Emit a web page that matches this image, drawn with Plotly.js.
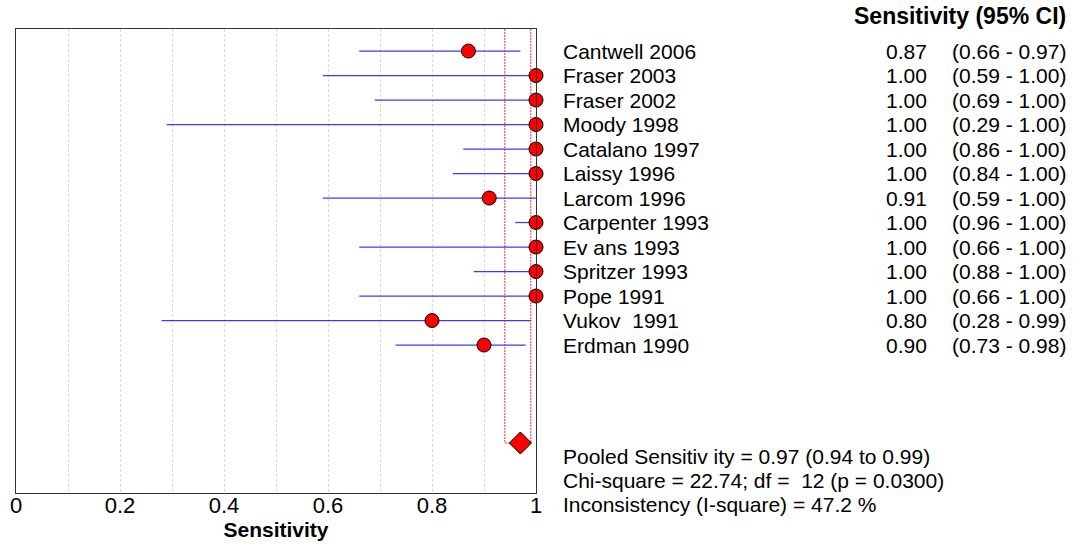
<!DOCTYPE html>
<html><head><meta charset="utf-8">
<script src="https://cdn.plot.ly/plotly-3.0.1.min.js"></script>
<style>html,body{margin:0;padding:0;background:#fff}</style>
</head><body>
<div id="chart" style="width:1089px;height:544px"></div>
<script>
// ---- data ----
const studies = ["Cantwell 2006","Fraser 2003","Fraser 2002","Moody 1998","Catalano 1997","Laissy 1996","Larcom 1996","Carpenter 1993","Ev ans 1993","Spritzer 1993","Pope 1991","Vukov  1991","Erdman 1990"];
const sensitivity = [0.87,1.00,1.00,1.00,1.00,1.00,0.91,1.00,1.00,1.00,1.00,0.80,0.90];
const ciLow  = [0.66,0.59,0.69,0.29,0.86,0.84,0.59,0.96,0.66,0.88,0.66,0.28,0.73];
const ciHigh = [0.97,1.00,1.00,1.00,1.00,1.00,1.00,1.00,1.00,1.00,1.00,0.99,0.98];
const pooledEst = 0.97, pooledLow = 0.94, pooledHigh = 0.99;
const statsLines = ["Pooled Sensitiv ity = 0.97 (0.94 to 0.99)","Chi-square = 22.74; df =  12 (p = 0.0300)","Inconsistency (I-square) = 47.2 %"];
const columnHeader = "Sensitivity (95% CI)";
const xTickVals = [0,0.2,0.4,0.6,0.8,1];
const xTickText = ["0","0.2","0.4","0.6","0.8","1"];
const xTitle = "Sensitivity";

// ---- layout helpers ----
const W = 1089, H = 544;
const mL = 16, mR = W - 536.5, mT = 29, mB = H - 493;
const plotW = W - mL - mR, plotH = H - mT - mB;
const px2x = p => (p - mL) / plotW;
const px2y = p => (H - mB - p) / plotH;
const FONT = "Liberation Sans, Arial, sans-serif";
const yTop = -0.9, yBottom = 18.04;
const rows = studies.map((_, i) => i);
const pooledRow = studies.length + 3;

// CI segments
const ciX = [], ciY = [];
rows.forEach(i => { ciX.push(ciLow[i], ciHigh[i], null); ciY.push(i, i, null); });

const traces = [
  {type:'scatter', mode:'lines', x:[pooledLow,pooledLow,pooledHigh,pooledHigh], y:[yTop,pooledRow,pooledRow,yTop],
   line:{color:'#ff3030', width:1, dash:'2px,1px'}, hoverinfo:'skip', cliponaxis:false},
  {type:'scatter', mode:'lines', x:ciX, y:ciY, line:{color:'#3a3aff', width:1.2}, hoverinfo:'skip'},
  {type:'scatter', mode:'markers', x:sensitivity, y:rows, cliponaxis:false,
   marker:{symbol:'circle', size:14, color:'#ff0000', line:{color:'#000', width:1}}},
  {type:'scatter', mode:'markers', x:[pooledEst], y:[pooledRow], cliponaxis:false,
   marker:{symbol:'diamond', size:17, color:'#ff0000', line:{color:'#000', width:1}}}
];

const annotations = [];
const base = {showarrow:false, yanchor:'middle', font:{family:FONT, size:21, color:'#000'}};
rows.forEach(i => {
  annotations.push(Object.assign({}, base, {xref:'paper', yref:'y', x:px2x(562), y:i, xanchor:'left', text:studies[i]}));
  annotations.push(Object.assign({}, base, {xref:'paper', yref:'y', x:px2x(930), y:i, xanchor:'right', text:sensitivity[i].toFixed(2)}));
  annotations.push(Object.assign({}, base, {xref:'paper', yref:'y', x:px2x(1010), y:i, xanchor:'center', text:'(' + ciLow[i].toFixed(2) + ' - ' + ciHigh[i].toFixed(2) + ')'}));
});
annotations.push(Object.assign({}, base, {xref:'paper', yref:'paper', x:px2x(961), y:px2y(16), xanchor:'center',
  font:{family:FONT, size:23, color:'#000'}, text:'<b>' + columnHeader + '</b>'}));
const statsY = [456, 480, 504];
statsLines.forEach((t, k) => {
  annotations.push(Object.assign({}, base, {xref:'paper', yref:'paper', x:px2x(562), y:px2y(statsY[k]), xanchor:'left', text:t}));
});

const layout = {
  width:W, height:H, margin:{l:mL, r:mR, t:mT, b:mB, pad:0},
  paper_bgcolor:'#fff', plot_bgcolor:'#fff', showlegend:false,
  xaxis:{range:[0,1], tickvals:xTickVals, ticktext:xTickText, ticks:'', showline:true, mirror:true, linecolor:'#333', linewidth:1,
         showgrid:true, gridcolor:'#dadada', griddash:'3px,2px', gridwidth:1, zeroline:false,
         minor:{dtick:0.1, tick0:0, showgrid:true, gridcolor:'#dadada', griddash:'3px,2px', gridwidth:1},
         tickfont:{family:FONT, size:22, color:'#000'}, ticklabelstandoff:-7, automargin:false,
         title:{text:'<b>' + xTitle + '</b>', font:{family:FONT, size:21, color:'#000'}, standoff:1}},
  yaxis:{range:[yBottom, yTop], showticklabels:false, ticks:'', showgrid:false, zeroline:false, showline:true, mirror:true, linecolor:'#333', linewidth:1, automargin:false},
  annotations:annotations
};
Plotly.newPlot('chart', traces, layout, {displayModeBar:false, staticPlot:true});
</script>
</body></html>
